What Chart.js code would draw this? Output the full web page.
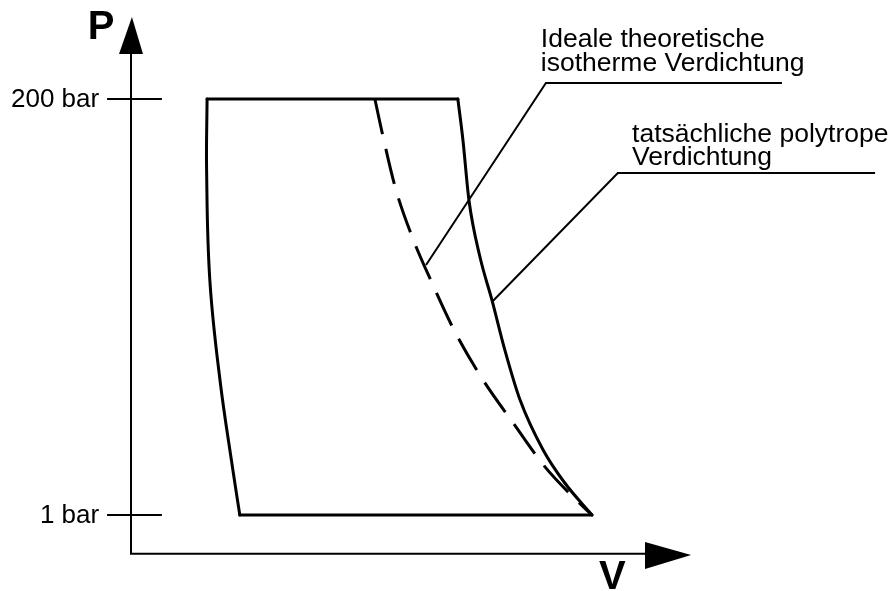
<!DOCTYPE html>
<html>
<head>
<meta charset="utf-8">
<script src="https://cdn.jsdelivr.net/npm/chart.js@4.4.1/dist/chart.umd.min.js"></script>
<style>
  html, body { margin: 0; padding: 0; background: #fff; }
  canvas { display: block; }
</style>
</head>
<body>
<canvas id="pvChart" width="893" height="591"></canvas>
<script>
  // schematic p-V diagram of a compressor, V in relative units (0..100), P in bar
  const topV = [16.5, 70.9];
  const topP = [200, 200];
  const bottomV = [23.6, 100];
  const bottomP = [1, 1];
  // re-expansion of the clearance volume
  const reexpV = [16.5, 16.4, 17.1, 19.3, 22.1, 23.6];
  const reexpP = [200, 166, 113.4, 65.6, 22.5, 1];
  // real polytropic compression
  const polyV = [70.9, 72.0, 73.3, 75.7, 78.3, 81.1, 84.4, 89.4, 94.1, 100];
  const polyP = [200, 180.4, 151.7, 124.4, 103.8, 79.9, 56.0, 32.1, 16.3, 1];
  // ideal isothermal compression
  const isoV = [52.9, 54.5, 57.3, 61.0, 65.3, 70.3, 76.1, 82.9, 89.8, 95.9, 100];
  const isoP = [200, 183.7, 157.9, 134.0, 112.0, 88.5, 66.5, 45.0, 24.0, 9.6, 1];

  const pTicks = [200, 1];
  const pTickLabels = ["200 bar", "1 bar"];
  const isoLabel = ["Ideale theoretische", "isotherme Verdichtung"];
  const polyLabel = ["tatsächliche polytrope", "Verdichtung"];

  const toPoints = (vs, ps) => vs.map((v, i) => ({ x: v, y: ps[i] }));

  function curve(vs, ps, extra) {
    return Object.assign({
      data: toPoints(vs, ps),
      showLine: true,
      borderColor: "#000",
      borderWidth: 3,
      pointRadius: 0,
      cubicInterpolationMode: "monotone",
      borderCapStyle: "round",
      borderJoinStyle: "round",
      fill: false,
    }, extra || {});
  }

  const FONT = "'Liberation Sans', Arial, sans-serif";

  const diagramDecor = {
    id: "diagramDecor",
    afterDatasetsDraw(chart) {
      const ctx = chart.ctx;
      const xs = chart.scales.x, ys = chart.scales.y;
      const px = v => xs.getPixelForValue(v);
      const py = p => ys.getPixelForValue(p);
      const axisP = -17.5;

      ctx.save();
      ctx.strokeStyle = "#000";
      ctx.fillStyle = "#000";
      ctx.lineCap = "butt";

      // axes
      ctx.lineWidth = 2;
      ctx.beginPath();
      ctx.moveTo(px(0), py(221.5));
      ctx.lineTo(px(0), py(axisP));
      ctx.lineTo(px(111.5), py(axisP));
      ctx.stroke();

      // arrow heads
      ctx.beginPath();
      ctx.moveTo(px(-2.6), py(221.5));
      ctx.lineTo(px(2.6), py(221.5));
      ctx.lineTo(px(0.2), py(239.2));
      ctx.closePath();
      ctx.fill();
      ctx.beginPath();
      ctx.moveTo(px(111.5), py(-11.9));
      ctx.lineTo(px(111.5), py(-24.8));
      ctx.lineTo(px(121.5), py(-18.1));
      ctx.closePath();
      ctx.fill();

      // pressure ticks
      ctx.font = "26px " + FONT;
      ctx.textAlign = "right";
      ctx.textBaseline = "middle";
      pTicks.forEach((p, i) => {
        ctx.beginPath();
        ctx.moveTo(px(-5.2), py(p));
        ctx.lineTo(px(6.7), py(p));
        ctx.stroke();
        ctx.fillText(pTickLabels[i], px(-6.9), py(p) + 1);
      });

      // axis titles
      ctx.font = "bold 40px " + FONT;
      ctx.textAlign = "left";
      ctx.textBaseline = "alphabetic";
      ctx.fillText("P", px(-9.4), py(228.7));
      ctx.fillText("V", px(101.5), py(-34.2));

      // leader lines
      ctx.lineWidth = 2;
      ctx.beginPath();
      ctx.moveTo(px(141.2), py(207.7));
      ctx.lineTo(px(90.0), py(207.7));
      ctx.lineTo(px(64.0), py(120.6));
      ctx.moveTo(px(161.4), py(164.6));
      ctx.lineTo(px(105.6), py(164.6));
      ctx.lineTo(px(78.5), py(103.4));
      ctx.stroke();

      // annotations
      ctx.font = "26.5px " + FONT;
      ctx.fillText(isoLabel[0], px(88.9), py(224.9));
      ctx.fillText(isoLabel[1], px(88.9), py(213.4));
      ctx.fillText(polyLabel[0], px(108.7), py(179.4));
      ctx.fillText(polyLabel[1], px(108.7), py(168.4));
      ctx.restore();
    }
  };

  const ctxPV = document.getElementById("pvChart").getContext("2d");
  const pvChart = new Chart(ctxPV, {
    type: "scatter",
    data: {
      datasets: [
        curve(topV, topP),
        curve(reexpV, reexpP, { cubicInterpolationMode: "default", tension: 0.4 }),
        curve(bottomV, bottomP),
        curve(polyV, polyP),
        curve(isoV, isoP, { borderDash: [36, 15], borderCapStyle: "butt" }),
      ],
    },
    options: {
      responsive: false,
      animation: false,
      layout: { padding: 0 },
      plugins: {
        legend: { display: false },
        tooltip: { enabled: false },
      },
      scales: {
        x: { type: "linear", min: -28.416, max: 165.29, display: false },
        y: { type: "linear", min: -35.356, max: 247.36, display: false },
      },
    },
    plugins: [diagramDecor],
  });
</script>
</body>
</html>
